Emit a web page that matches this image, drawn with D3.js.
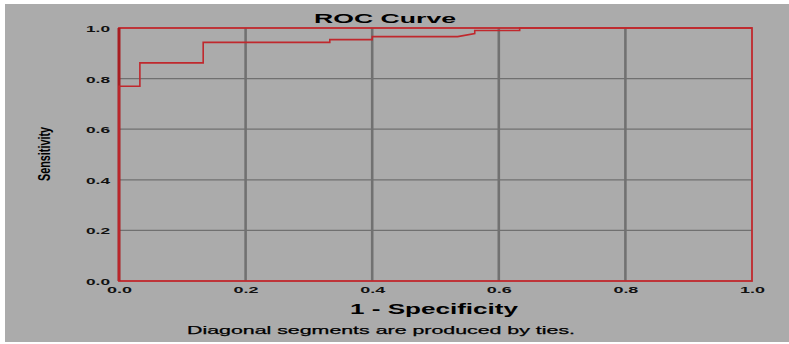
<!DOCTYPE html>
<html>
<head>
<meta charset="utf-8">
<script src="https://cdn.jsdelivr.net/npm/d3@7"></script>
<style>
  html, body { margin: 0; padding: 0; background: #fff; }
  svg { display: block; font-family: "Liberation Sans", Arial, sans-serif; }
</style>
</head>
<body>
<div id="chart"></div>
<script>
// ROC curve points (1 - specificity, sensitivity)
const fpr = [0, 0, 0.033, 0.033, 0.133, 0.133, 0.333, 0.333, 0.4, 0.4, 0.535, 0.562, 0.562, 0.633, 0.633, 1];
const tpr = [0, 0.77, 0.77, 0.862, 0.862, 0.943, 0.943, 0.954, 0.954, 0.966, 0.966, 0.978, 0.99, 0.99, 1, 1];
const tickValues = [0, 0.2, 0.4, 0.6, 0.8, 1.0];
const gridValues = [0.2, 0.4, 0.6, 0.8];

const width = 789, height = 344;
const red = '#c0282d';

const svg = d3.select('#chart')
    .append('svg')
    .attr('width', width)
    .attr('height', height);

// gray panel
svg.append('rect')
    .attr('x', 5).attr('y', 4)
    .attr('width', 784).attr('height', 338)
    .attr('fill', '#ababab');

const x = d3.scaleLinear().domain([0, 1]).range([119, 752]);
const y = d3.scaleLinear().domain([0, 1]).range([281, 28]);

// grid
svg.append('g').selectAll('line')
    .data(gridValues)
    .join('line')
    .attr('x1', x(0)).attr('x2', x(1))
    .attr('y1', d => y(d)).attr('y2', d => y(d))
    .attr('stroke', '#707070')
    .attr('stroke-width', 1.2);

svg.append('g').selectAll('line')
    .data(gridValues)
    .join('line')
    .attr('x1', d => x(d)).attr('x2', d => x(d))
    .attr('y1', y(0)).attr('y2', y(1))
    .attr('stroke', '#717171')
    .attr('stroke-width', 2.6);

// frame
svg.append('rect')
    .attr('x', x(0)).attr('y', y(1))
    .attr('width', x(1) - x(0)).attr('height', y(0) - y(1))
    .attr('fill', 'none')
    .attr('stroke', red)
    .attr('stroke-width', 1.8);

svg.append('line')
    .attr('x1', x(0)).attr('x2', x(0))
    .attr('y1', y(0)).attr('y2', y(1))
    .attr('stroke', '#a81c20')
    .attr('stroke-width', 3);

// curve
const pts = fpr.map((f, i) => [f, tpr[i]]);
svg.append('path')
    .datum(pts)
    .attr('fill', 'none')
    .attr('stroke', red)
    .attr('stroke-width', 1.6)
    .attr('d', d3.line().x(d => x(d[0])).y(d => y(d[1])));

// tick labels
svg.append('g').selectAll('text')
    .data(tickValues)
    .join('text')
    .attr('x', 110)
    .attr('y', d => y(d) + 4)
    .attr('text-anchor', 'end')
    .attr('font-size', 9)
    .attr('font-weight', 'bold')
    .attr('fill', '#111')
    .attr('textLength', 24)
    .attr('lengthAdjust', 'spacingAndGlyphs')
    .text(d => d.toFixed(1));

svg.append('g').selectAll('text')
    .data(tickValues)
    .join('text')
    .attr('x', d => x(d) - 12)
    .attr('y', 293)
    .attr('font-size', 9)
    .attr('font-weight', 'bold')
    .attr('fill', '#111')
    .attr('textLength', 25)
    .attr('lengthAdjust', 'spacingAndGlyphs')
    .text(d => d.toFixed(1));

// titles
svg.append('text')
    .attr('x', 314).attr('y', 23)
    .attr('font-size', 13.5)
    .attr('font-weight', 'bold')
    .attr('fill', '#000')
    .attr('textLength', 142)
    .attr('lengthAdjust', 'spacingAndGlyphs')
    .text('ROC Curve');

svg.append('text')
    .attr('x', 350).attr('y', 314)
    .attr('font-size', 14)
    .attr('font-weight', 'bold')
    .attr('fill', '#000')
    .attr('textLength', 168)
    .attr('lengthAdjust', 'spacingAndGlyphs')
    .text('1 - Specificity');

svg.append('text')
    .attr('x', 187).attr('y', 334)
    .attr('font-size', 11.5)
    .attr('fill', '#000')
    .attr('stroke', '#000')
    .attr('stroke-width', 0.25)
    .attr('textLength', 388)
    .attr('lengthAdjust', 'spacingAndGlyphs')
    .text('Diagonal segments are produced by ties.');

svg.append('text')
    .attr('transform', 'translate(50,154) rotate(-90)')
    .attr('text-anchor', 'middle')
    .attr('font-size', 17)
    .attr('font-weight', 'bold')
    .attr('fill', '#000')
    .attr('textLength', 54)
    .attr('lengthAdjust', 'spacingAndGlyphs')
    .text('Sensitivity');
</script>
</body>
</html>
